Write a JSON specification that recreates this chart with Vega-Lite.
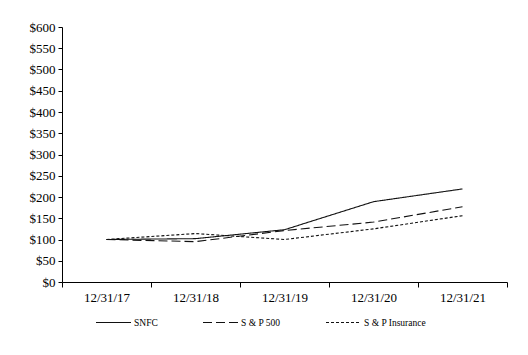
{
  "$schema": "https://vega.github.io/schema/vega-lite/v6.json",
  "autosize": {"type": "none"},
  "width": 445,
  "height": 255,
  "padding": {"left": 62, "top": 27, "right": 21, "bottom": 73},
  "background": "white",
  "config": {
    "font": "Liberation Serif",
    "view": {"stroke": null},
    "axis": {"domainColor": "black", "tickColor": "black", "labelColor": "black", "grid": false, "labelFont": "Liberation Serif", "labelFontSize": 13, "domainWidth": 1, "tickWidth": 1}
  },
  "data": {
    "values": [
      {"date": "12/31/17", "series": "SNFC", "value": 100},
      {"date": "12/31/18", "series": "SNFC", "value": 102},
      {"date": "12/31/19", "series": "SNFC", "value": 123},
      {"date": "12/31/20", "series": "SNFC", "value": 189},
      {"date": "12/31/21", "series": "SNFC", "value": 219},
      {"date": "12/31/17", "series": "S & P 500", "value": 100},
      {"date": "12/31/18", "series": "S & P 500", "value": 95},
      {"date": "12/31/19", "series": "S & P 500", "value": 121},
      {"date": "12/31/20", "series": "S & P 500", "value": 141},
      {"date": "12/31/21", "series": "S & P 500", "value": 177},
      {"date": "12/31/17", "series": "S & P Insurance", "value": 100},
      {"date": "12/31/18", "series": "S & P Insurance", "value": 114},
      {"date": "12/31/19", "series": "S & P Insurance", "value": 100},
      {"date": "12/31/20", "series": "S & P Insurance", "value": 125},
      {"date": "12/31/21", "series": "S & P Insurance", "value": 156}
    ]
  },
  "mark": {"type": "line", "strokeWidth": 1.1, "color": "#111"},
  "encoding": {
    "x": {
      "field": "date", "type": "ordinal", "title": null,
      "scale": {"type": "band", "paddingInner": 0, "paddingOuter": 0},
      "axis": {"labelAngle": 0, "tickBand": "extent", "tickSize": 5, "labelPadding": 4}
    },
    "y": {
      "field": "value", "type": "quantitative", "title": null,
      "scale": {"domain": [0, 600], "nice": false},
      "axis": {"values": [0,50,100,150,200,250,300,350,400,450,500,550,600], "format": "$,d", "tickSize": 4, "labelPadding": 3}
    },
    "strokeDash": {
      "field": "series", "type": "nominal",
      "scale": {"domain": ["SNFC", "S & P 500", "S & P Insurance"], "range": [[1, 0], [9, 4], [3, 2]]},
      "legend": {
        "title": null, "orient": "none", "legendX": 33, "legendY": 277,
        "direction": "horizontal", "columns": 3, "columnPadding": 42,
        "symbolType": "stroke", "symbolSize": 1225, "symbolStrokeColor": "#111", "symbolStrokeWidth": 1.1,
        "labelFontSize": 9.5, "labelFont": "Liberation Serif", "labelColor": "black", "labelOffset": 2
      }
    },
    "detail": {"field": "series"}
  }
}
